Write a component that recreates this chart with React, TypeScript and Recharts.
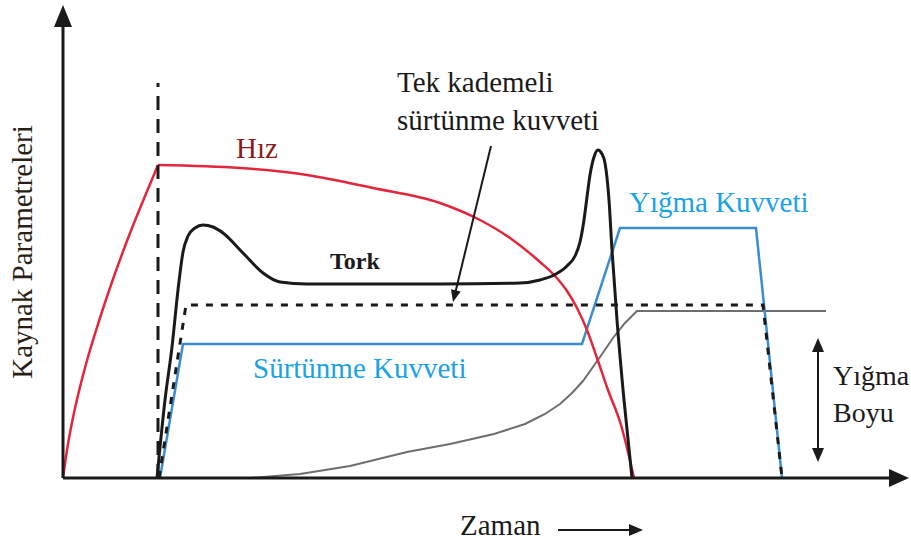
import React from 'react';
import { LineChart, Line, XAxis, YAxis, ReferenceLine } from 'recharts';

// time (x) / parameter level (y), 1 unit = 10px on both axes
const X_MAX = 84.6;
const Y_MAX = 47.3;

const hizRise = [
  { x: 0, y: 0 }, { x: 0.4, y: 2.8 }, { x: 0.9, y: 5.55 }, { x: 1.6, y: 8.7 },
  { x: 2.5, y: 12.1 }, { x: 3.6, y: 15.7 }, { x: 4.9, y: 19.6 }, { x: 6.4, y: 23.7 },
  { x: 8.0, y: 27.7 }, { x: 9.5, y: 31.3 },
];

const hizFall = [
  { x: 9.5, y: 31.3 }, { x: 17.7, y: 31.0 }, { x: 24.4, y: 30.3 }, { x: 31.0, y: 29.0 },
  { x: 37.7, y: 27.5 }, { x: 41.7, y: 25.8 }, { x: 44.7, y: 24.0 }, { x: 47.7, y: 21.6 },
  { x: 49.2, y: 20.2 }, { x: 50.4, y: 18.7 }, { x: 51.4, y: 17.0 }, { x: 52.4, y: 14.8 },
  { x: 53.4, y: 12.0 }, { x: 54.5, y: 8.8 }, { x: 55.8, y: 5.3 }, { x: 57.1, y: 0 },
];

const tork = [
  { x: 9.4, y: 0 }, { x: 10.2, y: 7.8 }, { x: 10.9, y: 13.1 }, { x: 11.5, y: 18.8 },
  { x: 12.0, y: 22.6 }, { x: 12.5, y: 24.2 }, { x: 13.2, y: 25.0 }, { x: 14.0, y: 25.3 },
  { x: 15.0, y: 25.1 }, { x: 16.0, y: 24.5 }, { x: 18.0, y: 22.5 }, { x: 20.0, y: 20.5 },
  { x: 21.7, y: 19.6 }, { x: 24.4, y: 19.4 }, { x: 37.7, y: 19.4 }, { x: 45.7, y: 19.5 },
  { x: 47.7, y: 19.8 }, { x: 49.3, y: 20.4 }, { x: 50.4, y: 21.2 }, { x: 51.2, y: 22.2 },
  { x: 51.7, y: 23.6 }, { x: 52.1, y: 25.8 }, { x: 52.4, y: 28.1 }, { x: 52.7, y: 30.3 },
  { x: 53.1, y: 32.1 }, { x: 53.5, y: 32.8 }, { x: 53.9, y: 32.4 }, { x: 54.2, y: 31.5 },
  { x: 54.6, y: 27.8 }, { x: 54.9, y: 22.8 }, { x: 55.4, y: 15.8 }, { x: 56.1, y: 7.8 },
  { x: 56.9, y: 0 },
];

const tekKademeli = [
  { x: 9.6, y: 0 }, { x: 12.3, y: 17.3 }, { x: 70.0, y: 17.3 }, { x: 71.9, y: 0 },
];

const kuvvet = [
  { x: 9.7, y: 0 }, { x: 12.0, y: 13.4 }, { x: 51.9, y: 13.4 }, { x: 55.7, y: 25.0 },
  { x: 69.3, y: 25.0 }, { x: 71.9, y: 0 },
];

const yigmaBoyu = [
  { x: 18.7, y: 0 }, { x: 23.7, y: 0.4 }, { x: 28.7, y: 1.2 }, { x: 34.4, y: 2.6 },
  { x: 38.7, y: 3.4 }, { x: 43.1, y: 4.4 }, { x: 46.2, y: 5.4 }, { x: 48.2, y: 6.4 },
  { x: 49.7, y: 7.4 }, { x: 50.9, y: 8.5 }, { x: 52.0, y: 9.7 }, { x: 53.7, y: 12.1 },
  { x: 55.0, y: 14.0 }, { x: 56.2, y: 15.5 }, { x: 57.4, y: 16.7 }, { x: 76.3, y: 16.7 },
];

const FONT = '"Liberation Serif", "Times New Roman", serif';
const RED = '#e3263b';
const BLUE_LINE = '#3c8dcf';
const BLUE_TEXT = '#1ba2e6';
const INK = '#1a1a1a';

// line with a filled head at the end (or at both ends)
const arrow = (len: number, half: number, both = false, width = 3) => (props: any) => {
  const { x1, y1, x2, y2 } = props;
  const dx = x2 - x1;
  const dy = y2 - y1;
  const d = Math.hypot(dx, dy) || 1;
  const ux = dx / d;
  const uy = dy / d;
  const head = (tx: number, ty: number, sx: number, sy: number) => {
    const bx = tx - sx * len;
    const by = ty - sy * len;
    return `${tx},${ty} ${bx - sy * half},${by + sx * half} ${bx + sy * half},${by - sx * half}`;
  };
  return (
    <g>
      <line
        x1={both ? x1 + ux * len * 0.8 : x1}
        y1={both ? y1 + uy * len * 0.8 : y1}
        x2={x2 - ux * len * 0.8}
        y2={y2 - uy * len * 0.8}
        stroke={INK}
        strokeWidth={width}
      />
      <polygon points={head(x2, y2, ux, uy)} fill={INK} />
      {both && <polygon points={head(x1, y1, -ux, -uy)} fill={INK} />}
    </g>
  );
};

const lineProps = {
  dataKey: 'y',
  dot: false,
  activeDot: false,
  isAnimationActive: false,
  legendType: 'none' as const,
};

export default function App() {
  return (
    <div style={{ position: 'absolute', left: 0, top: 0, width: 911, height: 544, background: '#fff' }}>
      <LineChart width={911} height={544} margin={{ top: 5, right: 2, bottom: 66, left: 63 }}>
        <XAxis type="number" dataKey="x" domain={[0, X_MAX]} allowDataOverflow hide />
        <YAxis type="number" domain={[0, Y_MAX]} allowDataOverflow hide />

        <Line {...lineProps} data={yigmaBoyu} type="linear" stroke="#6e6e6e" strokeWidth={2} />
        <Line {...lineProps} data={kuvvet} type="linear" stroke={BLUE_LINE} strokeWidth={2.5} />
        <Line {...lineProps} data={tekKademeli} type="linear" stroke={INK} strokeWidth={3} strokeDasharray="7 8" />
        <Line {...lineProps} data={hizRise} type="monotone" stroke={RED} strokeWidth={2.5} />
        <Line {...lineProps} data={hizFall} type="monotone" stroke={RED} strokeWidth={2.5} />
        <Line {...lineProps} data={tork} type="monotone" stroke={INK} strokeWidth={3} />

        <ReferenceLine
          segment={[{ x: 9.5, y: 0 }, { x: 9.5, y: 39.5 }]}
          stroke={INK}
          strokeWidth={3}
          strokeDasharray="14 9"
        />

        {/* axes */}
        <ReferenceLine
          segment={[{ x: 0, y: 0 }, { x: 0, y: Y_MAX }]}
          ifOverflow="visible"
          shape={arrow(22, 9)}
        />
        <ReferenceLine
          segment={[{ x: 0, y: 0 }, { x: X_MAX, y: 0 }]}
          ifOverflow="visible"
          shape={arrow(20, 9)}
        />

        {/* pointer to the single-stage friction force */}
        <ReferenceLine
          segment={[{ x: 42.8, y: 33.2 }, { x: 39.0, y: 17.6 }]}
          shape={arrow(12, 5, false, 2)}
        />

        {/* upset length */}
        <ReferenceLine
          segment={[{ x: 75.5, y: 1.6 }, { x: 75.5, y: 14.0 }]}
          shape={arrow(14, 6, true, 2)}
        />
      </LineChart>

      <svg
        width={911}
        height={544}
        style={{ position: 'absolute', left: 0, top: 0, pointerEvents: 'none' }}
        fontFamily={FONT}
        fontSize={29}
      >
        <text x={236} y={158} fill="#8b1c1c">Hız</text>
        <text x={330} y={269} fill={INK} fontSize={24} fontWeight="bold">Tork</text>
        <text x={397} y={92} fill={INK}>Tek kademeli</text>
        <text x={397} y={130} fill={INK}>sürtünme kuvveti</text>
        <text x={629} y={212} fill={BLUE_TEXT}>Yığma Kuvveti</text>
        <text x={253} y={378} fill={BLUE_TEXT}>Sürtünme Kuvveti</text>
        <text x={833} y={385} fill={INK} fontSize={28}>Yığma</text>
        <text x={833} y={422} fill={INK} fontSize={28}>Boyu</text>
        <text
          x={32}
          y={252}
          transform="rotate(-90 32 252)"
          textAnchor="middle"
          fill="#2a1f14"
          fontSize={29}
        >
          Kaynak Parametreleri
        </text>
        <text x={460} y={535} fill={INK}>Zaman</text>
        <line x1={558} y1={530} x2={632} y2={530} stroke={INK} strokeWidth={2} />
        <polygon points="643,530 629,524 629,536" fill={INK} />
      </svg>
    </div>
  );
}
